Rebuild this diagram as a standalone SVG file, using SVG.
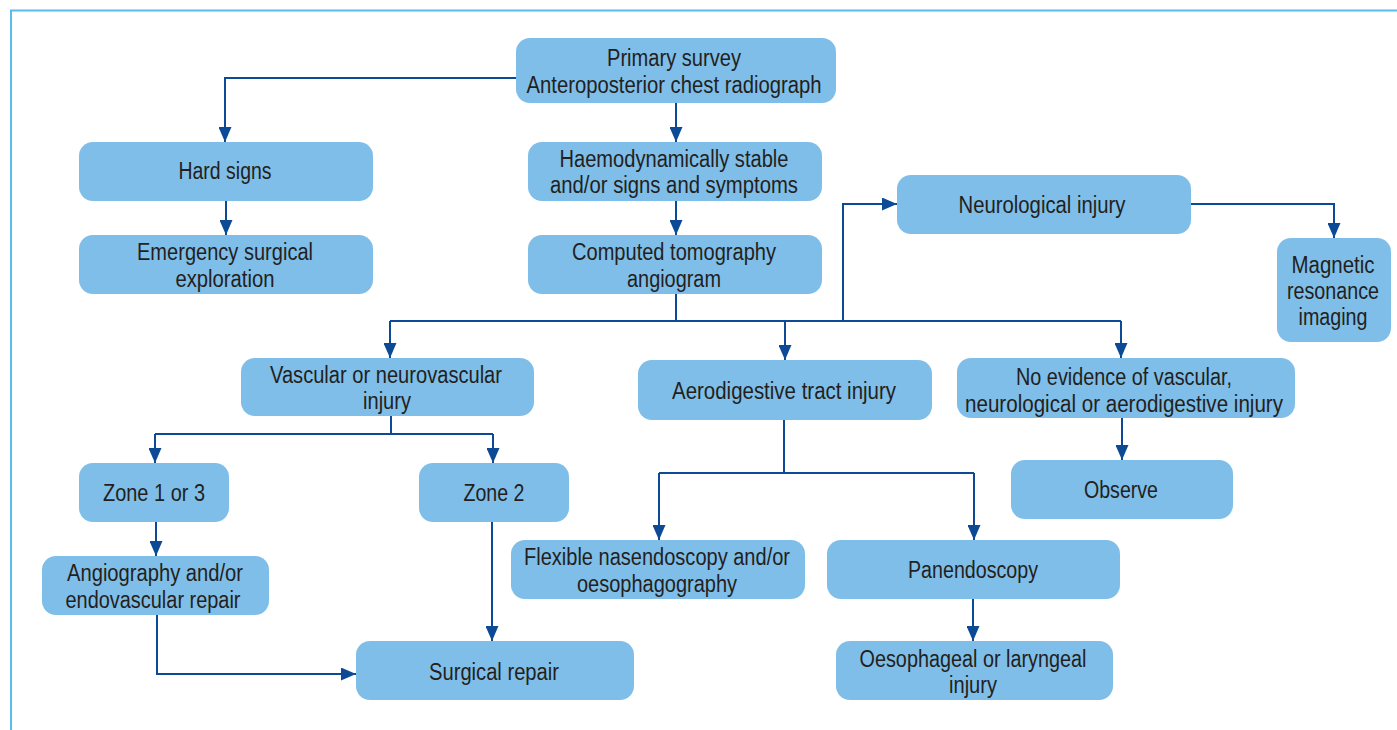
<svg xmlns="http://www.w3.org/2000/svg" width="1397" height="730" viewBox="0 0 1397 730">
<style>
.n{fill:#7fbee8}
.t{font-family:"Liberation Sans",Arial,sans-serif;font-size:23px;fill:#231f20;text-anchor:middle}
.c{fill:none;stroke:#0d4a96;stroke-width:2}
</style>
<defs>
<marker id="a" markerWidth="15" markerHeight="13" refX="15" refY="6.5" orient="auto" markerUnits="userSpaceOnUse" viewBox="0 0 15 13">
<path d="M0,0 L15,6.5 L0,13 Z" fill="#0d4a96"/>
</marker>
</defs>
<rect width="1397" height="730" fill="#fff"/>
<path d="M11,730 V10.5 H1397" fill="none" stroke="#5cbbe8" stroke-width="2"/>
<g id="connectors">
<path class="c" d="M516,78 H225 V142" marker-end="url(#a)"/>
<path class="c" d="M676,103 V142" marker-end="url(#a)"/>
<path class="c" d="M226,201 V235" marker-end="url(#a)"/>
<path class="c" d="M676,201 V235" marker-end="url(#a)"/>
<path class="c" d="M676,294 V321 M390,321 H1121"/>
<path class="c" d="M390,321 V358" marker-end="url(#a)"/>
<path class="c" d="M785,321 V360" marker-end="url(#a)"/>
<path class="c" d="M1121,321 V358" marker-end="url(#a)"/>
<path class="c" d="M843,321 V204 H897" marker-end="url(#a)"/>
<path class="c" d="M1191,204 H1334 V238" marker-end="url(#a)"/>
<path class="c" d="M391,416 V434 M155,434 H493"/>
<path class="c" d="M155,434 V463" marker-end="url(#a)"/>
<path class="c" d="M493,434 V463" marker-end="url(#a)"/>
<path class="c" d="M156,522 V556" marker-end="url(#a)"/>
<path class="c" d="M492,522 V641" marker-end="url(#a)"/>
<path class="c" d="M157,615 V674 H356" marker-end="url(#a)"/>
<path class="c" d="M784,420 V473 M659,473 H974"/>
<path class="c" d="M659,473 V540" marker-end="url(#a)"/>
<path class="c" d="M974,473 V540" marker-end="url(#a)"/>
<path class="c" d="M1122,418 V460" marker-end="url(#a)"/>
<path class="c" d="M973,599 V641" marker-end="url(#a)"/>
</g>
<g id="primary"><rect class="n" x="516" y="38" width="320" height="65" rx="14"/><text class="t" x="674" y="66" textLength="134" lengthAdjust="spacingAndGlyphs">Primary survey</text><text class="t" x="674" y="93" textLength="295" lengthAdjust="spacingAndGlyphs">Anteroposterior chest radiograph</text></g>
<g id="hard"><rect class="n" x="79" y="142" width="294" height="59" rx="14"/><text class="t" x="225" y="179" textLength="93" lengthAdjust="spacingAndGlyphs">Hard signs</text></g>
<g id="emergency"><rect class="n" x="79" y="235" width="294" height="59" rx="14"/><text class="t" x="225" y="260" textLength="176" lengthAdjust="spacingAndGlyphs">Emergency surgical</text><text class="t" x="225" y="287" textLength="99" lengthAdjust="spacingAndGlyphs">exploration</text></g>
<g id="haemo"><rect class="n" x="528" y="142" width="294" height="59" rx="14"/><text class="t" x="674" y="167" textLength="229" lengthAdjust="spacingAndGlyphs">Haemodynamically stable</text><text class="t" x="674" y="193" textLength="248" lengthAdjust="spacingAndGlyphs">and/or signs and symptoms</text></g>
<g id="ct"><rect class="n" x="528" y="235" width="294" height="59" rx="14"/><text class="t" x="674" y="260" textLength="204" lengthAdjust="spacingAndGlyphs">Computed tomography</text><text class="t" x="674" y="287" textLength="94" lengthAdjust="spacingAndGlyphs">angiogram</text></g>
<g id="neuro"><rect class="n" x="897" y="175" width="294" height="59" rx="14"/><text class="t" x="1042" y="213" textLength="167" lengthAdjust="spacingAndGlyphs">Neurological injury</text></g>
<g id="mri"><rect class="n" x="1277" y="238" width="114" height="104" rx="14"/><text class="t" x="1333" y="273" textLength="83" lengthAdjust="spacingAndGlyphs">Magnetic</text><text class="t" x="1333" y="299" textLength="92" lengthAdjust="spacingAndGlyphs">resonance</text><text class="t" x="1333" y="325" textLength="69" lengthAdjust="spacingAndGlyphs">imaging</text></g>
<g id="vascular"><rect class="n" x="241" y="358" width="293" height="58" rx="14"/><text class="t" x="386" y="383" textLength="232" lengthAdjust="spacingAndGlyphs">Vascular or neurovascular</text><text class="t" x="387" y="409" textLength="48" lengthAdjust="spacingAndGlyphs">injury</text></g>
<g id="aero"><rect class="n" x="638" y="360" width="294" height="60" rx="14"/><text class="t" x="784" y="399" textLength="224" lengthAdjust="spacingAndGlyphs">Aerodigestive tract injury</text></g>
<g id="noevidence"><rect class="n" x="957" y="358" width="338" height="60" rx="14"/><text class="t" x="1124" y="385" textLength="216" lengthAdjust="spacingAndGlyphs">No evidence of vascular,</text><text class="t" x="1124" y="412" textLength="318" lengthAdjust="spacingAndGlyphs">neurological or aerodigestive injury</text></g>
<g id="zone13"><rect class="n" x="79" y="463" width="150" height="59" rx="14"/><text class="t" x="154" y="501" textLength="102" lengthAdjust="spacingAndGlyphs">Zone 1 or 3</text></g>
<g id="zone2"><rect class="n" x="419" y="463" width="150" height="59" rx="14"/><text class="t" x="494" y="501" textLength="61" lengthAdjust="spacingAndGlyphs">Zone 2</text></g>
<g id="observe"><rect class="n" x="1011" y="460" width="222" height="59" rx="14"/><text class="t" x="1121" y="498" textLength="74" lengthAdjust="spacingAndGlyphs">Observe</text></g>
<g id="angio"><rect class="n" x="42" y="556" width="227" height="59" rx="14"/><text class="t" x="155" y="581" textLength="176" lengthAdjust="spacingAndGlyphs">Angiography and/or</text><text class="t" x="153" y="608" textLength="175" lengthAdjust="spacingAndGlyphs">endovascular repair</text></g>
<g id="flexible"><rect class="n" x="511" y="540" width="294" height="59" rx="14"/><text class="t" x="657" y="565" textLength="266" lengthAdjust="spacingAndGlyphs">Flexible nasendoscopy and/or</text><text class="t" x="657" y="592" textLength="160" lengthAdjust="spacingAndGlyphs">oesophagography</text></g>
<g id="panendo"><rect class="n" x="827" y="540" width="293" height="59" rx="14"/><text class="t" x="973" y="578" textLength="130" lengthAdjust="spacingAndGlyphs">Panendoscopy</text></g>
<g id="surgical"><rect class="n" x="356" y="641" width="278" height="59" rx="14"/><text class="t" x="494" y="680" textLength="130" lengthAdjust="spacingAndGlyphs">Surgical repair</text></g>
<g id="oeso"><rect class="n" x="836" y="641" width="277" height="59" rx="14"/><text class="t" x="973" y="667" textLength="227" lengthAdjust="spacingAndGlyphs">Oesophageal or laryngeal</text><text class="t" x="973" y="693" textLength="48" lengthAdjust="spacingAndGlyphs">injury</text></g>
</svg>
